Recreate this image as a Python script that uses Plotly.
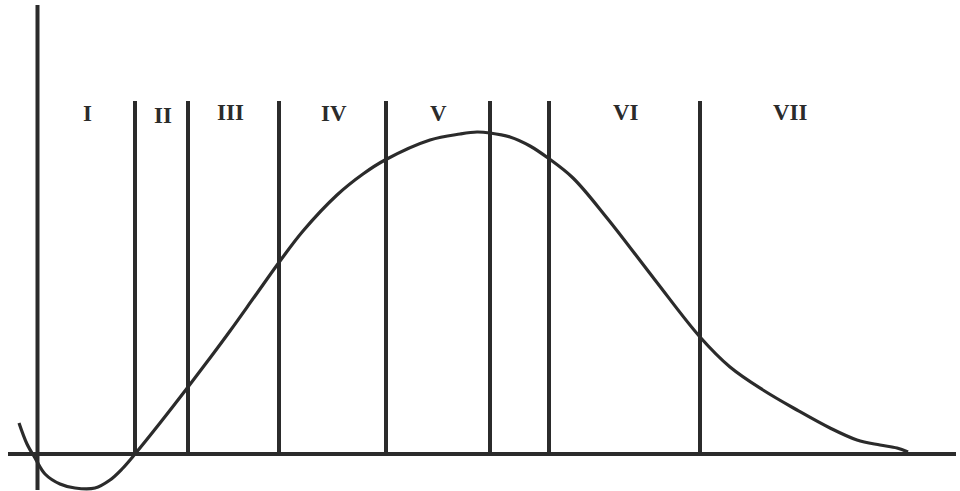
import plotly.graph_objects as go

# Curve (x along the baseline, y height above it).
curve_x = [19, 27, 35, 45, 60, 75, 95, 110, 122, 135, 160, 188, 210, 230, 255, 280, 303,
           337, 363, 385, 430, 460, 477, 490, 510, 530, 548, 573, 607, 655,
           700, 730, 763, 797, 830, 857, 880, 897, 908]
curve_y = [31, 10, -4, -20, -30, -34, -34, -26, -15, 0, 31, 67, 96, 123, 158, 193, 223,
           259, 280, 294, 314, 320, 322, 321, 317, 308, 296, 276, 236, 174,
           117, 87, 64, 44, 26, 14, 9, 6, 2]

# Section boundaries and labels.
boundaries = [135, 188, 279, 386, 490, 549, 700]
boundary_top = 353
labels = ["I", "II", "III", "IV", "V", "VI", "VII"]
label_x = [87, 163, 230, 334, 438, 626, 790]
label_y = [341, 339, 342, 341, 341, 342, 342]

ink = "#2b2b2b"

fig = go.Figure()

# Axes drawn as lines.
fig.add_trace(go.Scatter(x=[37.5, 37.5], y=[449, -36], mode="lines",
                         line=dict(color=ink, width=4), hoverinfo="skip"))
fig.add_trace(go.Scatter(x=[8, 956], y=[0, 0], mode="lines",
                         line=dict(color=ink, width=4), hoverinfo="skip"))

# Section lines.
for b in boundaries:
    fig.add_trace(go.Scatter(x=[b, b], y=[boundary_top, 0], mode="lines",
                             line=dict(color=ink, width=4), hoverinfo="skip"))

# The curve.
fig.add_trace(go.Scatter(x=curve_x, y=curve_y, mode="lines",
                         line=dict(color=ink, width=3.2, shape="spline", smoothing=1.0),
                         hoverinfo="skip"))

for lab, lx, ly in zip(labels, label_x, label_y):
    fig.add_annotation(x=lx, y=ly, text=f"<b>{lab}</b>", showarrow=False,
                       font=dict(family="Liberation Serif", size=23, color=ink))

fig.update_layout(
    width=960, height=491,
    margin=dict(l=0, r=0, t=0, b=0),
    paper_bgcolor="white", plot_bgcolor="white",
    showlegend=False,
    xaxis=dict(range=[0, 960], visible=False, fixedrange=True),
    yaxis=dict(range=[-37, 454], visible=False, fixedrange=True),
)

# Drop the page's default body margin so the figure sits at the corner.
fig.write_html("out.html", config={"displayModeBar": False},
               post_script="document.body.style.margin='0';document.body.style.overflow='hidden';")
